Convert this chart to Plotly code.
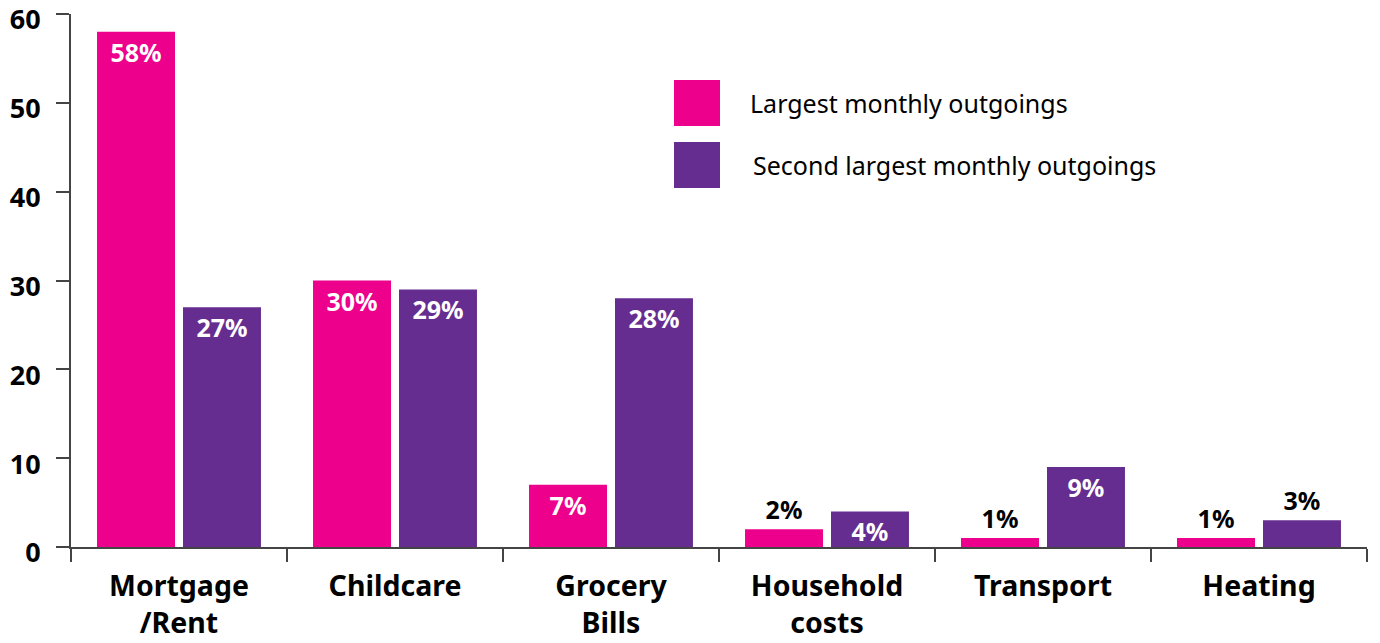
import plotly.graph_objects as go

categories = ["Mortgage<br>/Rent", "Childcare", "Grocery<br>Bills", "Household<br>costs", "Transport", "Heating"]
largest = [58, 30, 7, 2, 1, 1]
second = [27, 29, 28, 4, 9, 3]
series_names = ["Largest monthly outgoings", "Second largest monthly outgoings"]
colors = ["#EC008C", "#662D91"]
y_ticks = [0, 10, 20, 30, 40, 50, 60]

FONT = "Noto Sans"
PLOT_H = 533
PLOT_W = 1296


def label_positions(vals):
    return ["inside" if v >= 4 else "outside" for v in vals]


def label_colors(vals):
    return ["white" if v >= 4 else "black" for v in vals]


fig = go.Figure()
for name, vals, col in zip(series_names, [largest, second], colors):
    fig.add_trace(go.Bar(
        x=categories, y=vals, name=name, marker=dict(color=col, line=dict(width=0)),
        text=[f"{v}%" for v in vals], texttemplate="%{text}",
        textposition=label_positions(vals), insidetextanchor="end",
        textfont=dict(family=FONT, size=25, weight="bold", color=label_colors(vals)),
        constraintext="none", cliponaxis=False, showlegend=False,
    ))

fig.update_layout(
    width=1380, height=643,
    margin=dict(l=71, r=13, t=14, b=96, autoexpand=False),
    paper_bgcolor="white", plot_bgcolor="white",
    barmode="group", bargap=0.204, bargroupgap=0.093,
    font=dict(family=FONT, color="black"),
)
fig.update_yaxes(
    range=[0, 60], tickvals=y_ticks, showgrid=False, zeroline=False,
    showline=True, linecolor="#444", linewidth=2, automargin=False,
    ticks="outside", ticklen=13, tickwidth=2, tickcolor="#444",
    tickfont=dict(family=FONT, size=27, weight="bold", color="black"),
    ticklabelstandoff=10, ticklabelshift=6, ticklabeloverflow="allow",
)
fig.update_xaxes(
    showgrid=False, showline=True, linecolor="#444", linewidth=2, automargin=False,
    ticks="outside", tickson="boundaries", ticklen=13, tickwidth=2, tickcolor="#444",
    tickfont=dict(family=FONT, size=28.5, weight="bold", color="black"),
    ticklabelstandoff=13, ticklabeloverflow="allow",
)

# legend: coloured squares with labels
legend_px = [103, 165]
for (yp, name, col, tx) in zip(legend_px, series_names, colors, [748, 751]):
    yc = (547 - yp) / PLOT_H
    fig.add_shape(type="rect", xref="paper", yref="paper",
                  x0=(674 - 71) / PLOT_W, x1=(720 - 71) / PLOT_W,
                  y0=yc - 23 / PLOT_H, y1=yc + 23 / PLOT_H,
                  fillcolor=col, line=dict(width=0))
    fig.add_annotation(xref="paper", yref="paper", x=(tx - 71) / PLOT_W, y=yc,
                       text=name, showarrow=False, xanchor="left", yanchor="middle",
                       font=dict(family=FONT, size=25, color="black"))

fig.write_html("out.html")
